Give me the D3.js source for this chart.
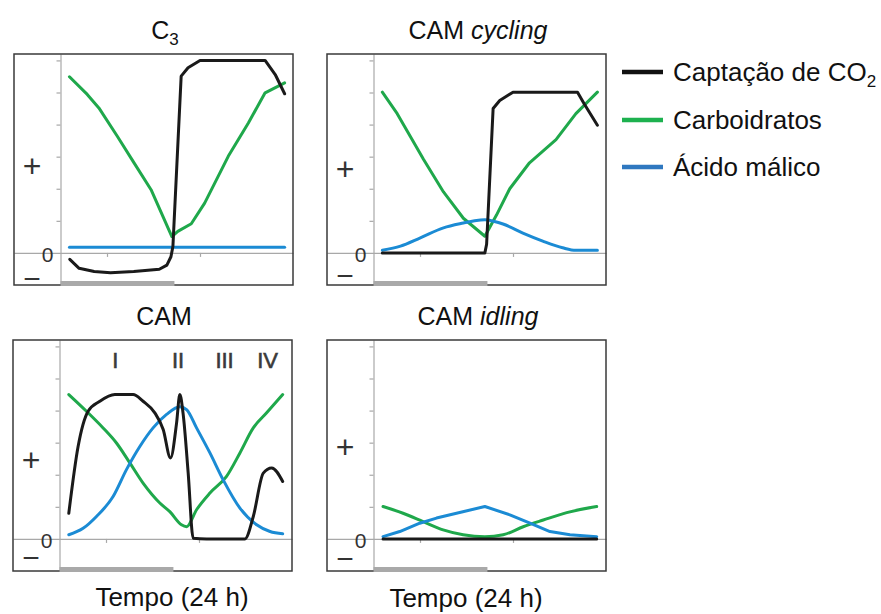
<!DOCTYPE html>
<html>
<head>
<meta charset="utf-8">
<script src="https://cdn.jsdelivr.net/npm/d3@7"></script>
<style>
  html, body { margin: 0; padding: 0; background: #fff; }
  svg { display: block; font-family: "Liberation Sans", Arial, sans-serif; }
</style>
</head>
<body>
<svg id="chart" width="881" height="614"></svg>
<script>
// Series names and colours
const seriesNames = ["Captação de CO", "Carboidratos", "Ácido málico"];
const seriesColors = ["#1a1a1a", "#1fa84b", "#1b8bd4"];
const legendColors = ["#111111", "#1db14f", "#2f78c0"];

// Time is in hours across each frame (0–24); values are relative units.
// C3
const c3CO2 = [[4.8,-0.2],[5.6,-0.48],[6.9,-0.58],[8.3,-0.62],[10.3,-0.58],[12.5,-0.51],[13.15,-0.38],[13.5,-0.12],[13.67,0.2],[14.38,5.51],[14.97,5.77],[16.0,6.0],[21.6,6.0],[22.47,5.56],[23.28,4.96]];
const c3Carb = [[4.77,5.49],[6.3,4.94],[7.3,4.52],[8.9,3.63],[10.34,2.8],[11.79,1.97],[13.58,0.51],[14.09,0.67],[15.25,0.91],[16.4,1.55],[18.43,3.01],[20.16,4.05],[21.6,4.99],[23.28,5.3]];
const c3Malic = [[4.77,0.18],[23.28,0.18]];

// CAM cycling
const cycCO2 = [[4.76,0],[13.58,0],[13.73,0.27],[14.29,4.5],[14.86,4.75],[16.0,5.01],[21.55,5.01],[22.12,4.65],[23.26,3.98]];
const cycCarb = [[4.76,5.01],[6.04,4.34],[7.17,3.63],[8.31,2.91],[10.02,1.9],[11.73,1.08],[13.58,0.52],[14.58,1.18],[15.72,2.0],[17.42,2.81],[19.7,3.53],[21.41,4.34],[23.26,5.01]];
const cycMalic = [[4.76,0.08],[6.32,0.21],[8.03,0.47],[10.02,0.78],[11.73,0.93],[12.7,1.0],[13.58,1.03],[14.4,0.98],[15.14,0.9],[16.85,0.62],[18.56,0.37],[20.27,0.16],[21.41,0.08],[23.26,0.08]];

// CAM
const camCO2 = [[4.8,0.8],[5.6,2.88],[6.46,3.98],[7.47,4.29],[8.76,4.5],[10.33,4.5],[11.19,4.29],[12.2,3.93],[12.92,3.41],[13.55,2.52],[14.07,3.61],[14.35,4.5],[14.64,3.88],[15.07,2.05],[15.5,0.02],[16.65,0],[19.95,0],[20.67,0.7],[21.53,2.05],[22.25,2.21],[23.2,1.79]];
const camCarb = [[4.8,4.5],[6.32,3.98],[7.75,3.46],[8.9,2.99],[10.05,2.37],[11.19,1.74],[12.63,1.12],[13.49,0.85],[14.49,0.44],[14.93,0.38],[15.79,0.91],[16.94,1.43],[18.37,1.95],[19.52,2.68],[20.67,3.46],[21.82,3.93],[23.2,4.5]];
const camMalic = [[4.8,0.13],[6.03,0.33],[7.18,0.7],[8.61,1.32],[9.76,2.16],[10.91,2.88],[12.05,3.46],[13.21,3.88],[14.35,4.12],[14.93,4.03],[15.79,3.46],[16.94,2.68],[18.08,1.84],[19.52,0.96],[20.96,0.44],[22.11,0.23],[23.2,0.16]];

// CAM idling
const idlCO2 = [[4.82,0],[23.2,0]];
const idlCarb = [[4.82,1.01],[6.54,0.8],[8.27,0.54],[9.99,0.28],[11.71,0.13],[13.58,0.07],[15.16,0.13],[16.88,0.38],[18.61,0.59],[20.62,0.82],[23.2,1.01]];
const idlMalic = [[4.82,0.07],[6.26,0.23],[7.98,0.49],[9.42,0.65],[11.14,0.8],[13.58,1.01],[15.73,0.75],[17.46,0.49],[19.18,0.23],[20.9,0.13],[23.2,0.07]];

// CAM phases
const phaseLabels = ["I", "II", "III", "IV"];
const phaseHours = [8.8, 14.2, 18.2, 21.9];

// Axis ticks and the night period
const yTickValues = [1, 2, 3, 4, 5, 6];
const xTickValues = [8, 16];
const axisHour = 4;
const nightSpan = [4, 13.8];

const L = d3.curveLinear, M = d3.curveMonotoneX;
const panels = [
  { title: ["C", "3", ""], x: 14, y: 54, series: [c3CO2, c3Carb, c3Malic], curves: [L, L, L], plusAt: 2.72, minusDy: 26 },
  { title: ["CAM ", "", "cycling"], x: 327, y: 54, series: [cycCO2, cycCarb, cycMalic], curves: [L, L, M], plusAt: 2.61, minusDy: 23 },
  { title: ["CAM", "", ""], x: 13, y: 340, series: [camCO2, camCarb, camMalic], curves: [M, M, M], plusAt: 2.47, minusDy: 19, phases: true },
  { title: ["CAM ", "", "idling"], x: 327, y: 340, series: [idlCO2, idlCarb, idlMalic], curves: [L, M, L], plusAt: 2.88, minusDy: 20 }
];

const W = 279, H = 231;
const x = d3.scaleLinear().domain([0, 24]).range([0, W]);
const y = d3.scaleLinear().domain([-1, 6.2]).range([H, 0]);
const lineWith = c => d3.line().x(d => x(d[0])).y(d => y(d[1])).curve(c);

const svg = d3.select("#chart");
const axisGrey = "#a8a8a8";

panels.forEach(p => {
  const g = svg.append("g").attr("transform", `translate(${p.x},${p.y})`);

  // Title
  const t = svg.append("text")
    .attr("x", p.x + 151).attr("y", p.y - 15)
    .attr("text-anchor", "middle").attr("font-size", 25).attr("fill", "#111");
  t.append("tspan").text(p.title[0]);
  if (p.title[1]) t.append("tspan").attr("font-size", 17).attr("dy", 6).text(p.title[1]);
  if (p.title[2]) t.append("tspan").attr("font-style", "italic").text(p.title[2]);

  // Zero line with x ticks
  const xAxis = g.append("g").attr("transform", `translate(0,${y(0)})`)
    .call(d3.axisBottom(x).tickValues(xTickValues).tickSize(4).tickSizeOuter(0).tickFormat(""));
  xAxis.selectAll("path, line").attr("stroke", axisGrey).attr("stroke-width", 1.2);

  // Vertical axis with ticks
  const yAxis = g.append("g").attr("transform", `translate(${x(axisHour)},0)`)
    .call(d3.axisLeft(y).tickValues(yTickValues).tickSize(4).tickSizeOuter(0).tickFormat(""));
  yAxis.selectAll("path, line").attr("stroke", axisGrey).attr("stroke-width", 1.2);

  // Frame
  g.append("rect").attr("x", 0).attr("y", 0).attr("width", W).attr("height", H)
    .attr("fill", "none").attr("stroke", "#3a3a3a").attr("stroke-width", 1.5);

  // Night bar
  g.append("rect")
    .attr("x", x(nightSpan[0])).attr("width", x(nightSpan[1]) - x(nightSpan[0]))
    .attr("y", H - 4).attr("height", 5).attr("fill", "#a9a9a9");

  // Sign labels
  g.append("text").attr("x", x(axisHour) - 7).attr("y", y(0) + 9)
    .attr("text-anchor", "end").attr("font-size", 21).attr("fill", "#333").text("0");
  g.append("text").attr("x", 18).attr("y", y(p.plusAt) + 11)
    .attr("text-anchor", "middle").attr("font-size", 32).attr("fill", "#333").text("+");
  g.append("text").attr("x", 18).attr("y", y(0) + p.minusDy + 10)
    .attr("text-anchor", "middle").attr("font-size", 30).attr("fill", "#333").text("−");

  // Phase labels
  if (p.phases) {
    g.selectAll("text.phase").data(phaseLabels).enter().append("text")
      .attr("class", "phase")
      .attr("x", (d, i) => x(phaseHours[i])).attr("y", 28)
      .attr("text-anchor", "middle").attr("font-size", 22).attr("fill", "#3a3a3a")
      .attr("stroke", "#3a3a3a").attr("stroke-width", 0.6)
      .text(d => d);
  }

  // Curves: carbohydrates, malic acid, then CO2 uptake
  [1, 2, 0].forEach(i => {
    g.append("path").datum(p.series[i])
      .attr("d", lineWith(p.curves[i])).attr("fill", "none")
      .attr("stroke", seriesColors[i]).attr("stroke-width", 3)
      .attr("stroke-linejoin", "round").attr("stroke-linecap", "round");
  });
});

// Legend
const legendY = [72, 120, 167];
const lg = svg.append("g");
seriesNames.forEach((name, i) => {
  lg.append("line").attr("x1", 622).attr("x2", 663)
    .attr("y1", legendY[i]).attr("y2", legendY[i])
    .attr("stroke", legendColors[i]).attr("stroke-width", 4.5);
  const t = lg.append("text").attr("x", 673).attr("y", legendY[i] + 9)
    .attr("font-size", 26).attr("fill", "#111").text(name);
  if (i === 0) t.append("tspan").attr("font-size", 17).attr("dy", 6).text("2");
});

// Time axis captions
svg.append("text").attr("x", 172).attr("y", 606).attr("text-anchor", "middle")
  .attr("font-size", 26).attr("fill", "#111").text("Tempo (24 h)");
svg.append("text").attr("x", 466).attr("y", 607).attr("text-anchor", "middle")
  .attr("font-size", 26).attr("fill", "#111").text("Tempo (24 h)");
</script>
</body>
</html>
